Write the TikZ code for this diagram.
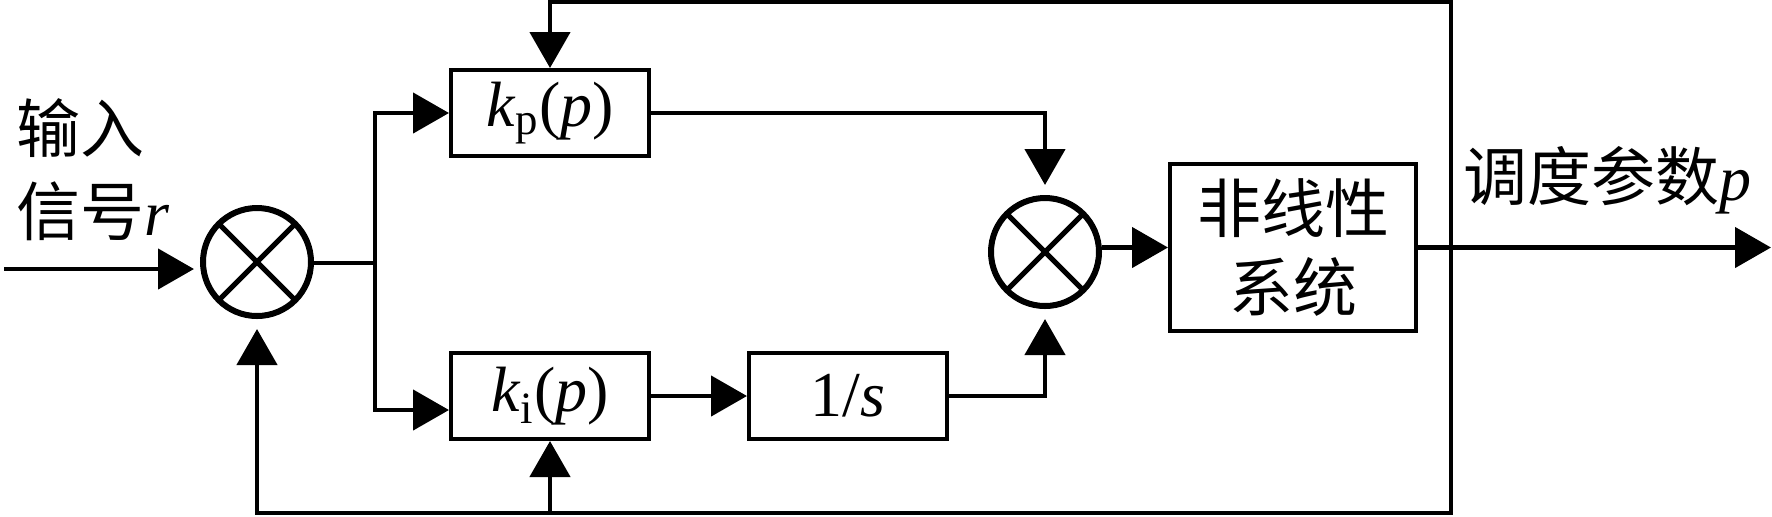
\documentclass[tikz,border=0pt]{standalone}
\usepackage{fontspec}
\setmainfont{Liberation Serif}
\newfontfamily\cjk{Noto Sans CJK SC}
\usetikzlibrary{calc,arrows.meta}

\tikzset{
  blk/.style={draw, line width=2pt, minimum width=99pt, minimum height=43pt, inner sep=0pt},
  mult/.style={circle, draw, line width=3pt, minimum size=54pt, inner sep=0pt,
    path picture={\draw[line width=2.5pt]
      (path picture bounding box.north west) -- (path picture bounding box.south east)
      (path picture bounding box.north east) -- (path picture bounding box.south west);}},
  wire/.style={line width=2.3pt},
  arr/.style={wire, -{Triangle[length=18pt,width=20pt]}},
}

\begin{document}
\begin{tikzpicture}[x=0.5pt, y=-0.5pt, font=\fontsize{32pt}{40pt}\selectfont]
\useasboundingbox (0,0) rectangle (1772,516);

% Blocks
\node[mult] (c1) at (257,262) {};
\node[blk] (kp) at (550,113) {\textit{k}\textsubscript{p}(\textit{p})};
\node[blk] (ki) at (550,396) {\textit{k}\textsubscript{i}(\textit{p})};
\node[blk] (is) at (848,396) {1/\textit{s}};
\node[mult] (c2) at (1045,252) {};
\node[blk, minimum width=123pt, minimum height=83.5pt, align=center,
      font=\fontsize{32pt}{39.5pt}\selectfont\cjk] (nl) at (1293,247.5) {非线性\\系统};

% Labels
\node[anchor=west, align=left, inner sep=0pt, font=\fontsize{32pt}{41.5pt}\selectfont]
  (inlbl) at (16,170) {{\cjk 输入}\\{\cjk 信号}\textit{r}};
\node[anchor=base west, inner sep=0pt] (outlbl) at (1463,200) {{\cjk 调度参数}\textit{p}};

% Junctions
\coordinate (in) at (4,269);
\coordinate (j) at (375,263);
\coordinate (fb) at (1451,247.5);
\coordinate (ftop) at (1451,2);
\coordinate (fbot) at (1451,513);
\coordinate (out) at (1771,247.5);

% Forward path
\draw[arr, shorten >=3pt] (in) -- (in -| c1.west);
\draw[wire] (c1.east |- j) -- (j);
\draw[arr] (j) |- (kp.west);
\draw[arr] (j) |- ([yshift=-7pt]ki.west);
\draw[arr] (ki.east) -- (is.west);
\draw[arr, shorten >=5pt] (kp.east) -| (c2.north);
\draw[arr, shorten >=5pt] (is.east) -| (c2.south);
\draw[arr] (c2.east |- nl.west) -- (nl.west);
\draw[arr] (nl.east) -- (out);

% Feedback of p
\draw[arr] (fb) -- (ftop) -| (kp.north);
\draw[arr, shorten >=5pt] (fb) -- (fbot) -| (c1.south);
\draw[arr] (ki.south |- fbot) -- (ki.south);
\end{tikzpicture}
\end{document}
